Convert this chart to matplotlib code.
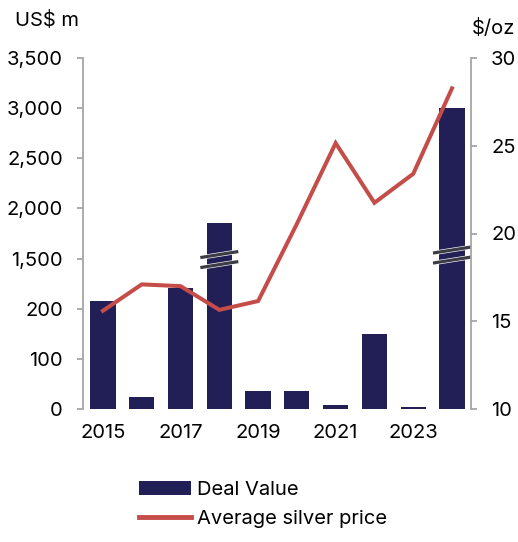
import numpy as np
import matplotlib
matplotlib.use("Agg")
import matplotlib.pyplot as plt
from matplotlib.patches import Patch
from matplotlib.lines import Line2D

years = [2015, 2016, 2017, 2018, 2019, 2020, 2021, 2022, 2023, 2024]
deal_value = [215, 23, 241, 1855, 35, 35, 8, 149, 3, 3000]
silver_price = [15.6, 17.1, 17.0, 15.65, 16.15, 20.55, 25.15, 21.75, 23.4, 28.27]

left_ticks = [0, 100, 200, 1500, 2000, 2500, 3000, 3500]
right_ticks = [10, 15, 20, 25, 30]
year_labels = ["2015", "", "2017", "", "2019", "", "2021", "", "2023", ""]

NAVY = "#221E56"
RED = "#C44D4A"
GREY = "#A6A6A6"

# broken y axis: 0-300 linear, then 1500+ squeezed 5:1 on top of it
LOW, HIGH, SQUEEZE = 300, 1500, 5.0


def fwd(v):
    v = np.asarray(v, dtype=float)
    return np.where(v <= LOW, v, np.where(v >= HIGH, LOW + (v - HIGH) / SQUEEZE, LOW))


def inv(s):
    s = np.asarray(s, dtype=float)
    return np.where(s <= LOW, s, HIGH + (s - LOW) * SQUEEZE)


plt.rcParams['font.family'] = ['Inter', 'DejaVu Sans']
plt.rcParams['font.size'] = 14.5

fig = plt.figure(figsize=(5.18, 5.42), dpi=100)
ax = fig.add_axes([83 / 518, 1 - 409 / 542, (471 - 83) / 518, (409 - 58) / 542])
ax.set_yscale('function', functions=(fwd, inv))

x = np.arange(len(years))
bars = ax.bar(x, deal_value, width=0.65, color=NAVY, zorder=2)
ax.set_xlim(-0.515, 9.49)
ax.set_ylim(0, 3500)
ax.set_yticks(left_ticks)
ax.set_yticklabels([f"{t:,}" for t in left_ticks])
ax.set_xticks(x)
ax.set_xticklabels(year_labels)

ax2 = ax.twinx()
ax2.plot(x, silver_price, color=RED, lw=2.9, solid_joinstyle='miter', zorder=3)
ax2.set_ylim(10, 30)
ax2.set_yticks(right_ticks)

for a in (ax, ax2):
    for side in ('top', 'bottom'):
        a.spines[side].set_visible(False)
    a.spines['left'].set_color(GREY)
    a.spines['right'].set_color(GREY)
    a.spines['left'].set_linewidth(1.3)
    a.spines['right'].set_linewidth(1.3)
ax.spines['right'].set_visible(False)
ax2.spines['left'].set_visible(False)
ax.tick_params(axis='y', length=4.5, width=1.3, color=GREY, pad=10)
ax.tick_params(axis='x', length=0, pad=11)
ax2.tick_params(axis='y', length=4.5, width=1.3, color=GREY, pad=10)

# break marks (pair of slashes) on the bars that cross the gap;
# centre given in squeezed axis units
break_centre = {3: 298, 9: 307}
for i, c in break_centre.items():
    xs = np.array([x[i] - 0.49, x[i] + 0.49])
    for off in (10, -10):
        ys = inv(np.array([c + off - 6, c + off + 6]))
        ax.plot(xs, ys, color="white", lw=3.2, solid_capstyle='butt', zorder=4, clip_on=False)
        ax.plot(xs, ys, color="#3C3C44", lw=2.3, solid_capstyle='butt', zorder=5, clip_on=False)

fig.text(15 / 518, 1 - 20 / 542, "US$ m", ha='left', va='center')
fig.text(472 / 518, 1 - 28 / 542, "$/oz", ha='left', va='center')

handles = [Patch(facecolor=NAVY, edgecolor='none', label="Deal Value"),
           Line2D([0], [0], color=RED, lw=3.5, label="Average silver price")]
fig.legend(handles=handles, loc='upper left', bbox_to_anchor=(139 / 518, 1 - 481 / 542),
           frameon=False, borderpad=0, borderaxespad=0, handlelength=2.6,
           handletextpad=0.3, labelspacing=0.55)

fig.savefig("out.png", dpi=100)
